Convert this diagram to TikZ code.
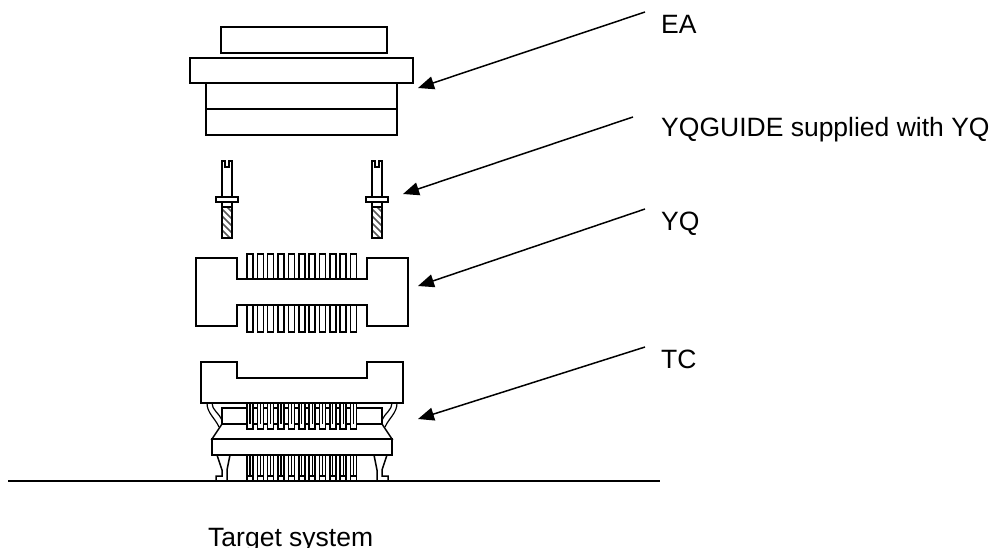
\documentclass[tikz,border=0pt]{standalone}
\usepackage{fontspec}
\setmainfont{Liberation Sans}
\usetikzlibrary{arrows.meta}
\tikzset{
  ln/.style={draw=black,line width=1.5pt,line join=miter},
  thin ln/.style={draw=black,line width=1.2pt},
  callout/.style={draw=black,line width=1.5pt,-{Triangle[length=16pt,width=13pt]}},
  lbl/.style={anchor=base west,inner sep=0pt,font=\fontsize{26.5pt}{28pt}\selectfont},
}
\begin{document}
\begin{tikzpicture}[x=1pt,y=-1pt]
\useasboundingbox (0,0) rectangle (993,550);
% EA
\draw[ln] (221,27) rectangle (387,53);
\draw[ln] (190,58) rectangle (413,83);
\draw[ln] (206,83) rectangle (397,109);
\draw[ln] (206,109) rectangle (397,135);
% guides
\foreach \c in {227,377}{
  \begin{scope}
    \clip (\c-5,207) rectangle (\c+5,238);
    \foreach \k in {0,...,7}
      \draw[black!65,line width=1.5pt] (\c-7,200+\k*7) -- (\c+7,214+\k*7);
  \end{scope}
  \draw[ln] (\c-5,197) -- (\c-5,161) -- (\c-2,161) -- (\c-2,167) -- (\c+2,167) -- (\c+2,161) -- (\c+5,161) -- (\c+5,197);
  \draw[ln] (\c-11,197) rectangle (\c+11,202);
  \draw[ln] (\c-5,202) rectangle (\c+5,238);
  \draw[ln] (\c-5,207) -- (\c+5,207);
}
% YQ
\foreach \k in {0,...,10}{
  \pgfmathsetmacro{\xa}{247+\k*10.35}
  \draw[ln] (\xa,279) -- (\xa,254) -- (\xa+6,254) -- (\xa+6,279);
  \draw[ln] (\xa,305) -- (\xa,332) -- (\xa+6,332) -- (\xa+6,305);
}
\draw[ln] (196,258) -- (237,258) -- (237,279) -- (367,279) -- (367,258) -- (408,258) -- (408,326) -- (367,326) -- (367,305) -- (237,305) -- (237,326) -- (196,326) -- cycle;
% TC
\draw[ln] (222,424) -- (222,408) -- (382,408) -- (382,424) -- cycle;
\foreach \k in {0,...,10}{
  \pgfmathsetmacro{\xa}{247+\k*10.35}
  \draw[ln,fill=white] (\xa,403) -- (\xa,429) -- (\xa+6,429) -- (\xa+6,403);
  \draw[thin ln] (\xa+3,403) -- (\xa+3,424);
  \draw[ln] (\xa,455) -- (\xa,481);
  \draw[ln] (\xa+6,455) -- (\xa+6,481);
  \draw[thin ln] (\xa+3,455) -- (\xa+3,476);
  \draw[ln] (\xa,476) rectangle (\xa+6,481);
}
\draw[ln] (201,362) -- (237,362) -- (237,378) -- (367,378) -- (367,362) -- (403,362) -- (403,403) -- (201,403) -- cycle;
\draw[ln] (222,424) -- (212,439) -- (392,439) -- (382,424);
\draw[ln] (212,439) rectangle (392,455);
% hooks
\draw[thin ln] (207,403) .. controls (207,413) and (215,418) .. (219,427);
\draw[thin ln] (212,403) .. controls (212,410) and (219,413) .. (222,420);
\draw[thin ln] (397,403) .. controls (397,413) and (389,418) .. (385,427);
\draw[thin ln] (392,403) .. controls (392,410) and (385,413) .. (382,420);
% feet
\draw[ln] (217,455) -- (222,470) -- (222,476) -- (216,476) -- (216,481) -- (227,481) -- (227,470) -- (230,455);
\draw[ln] (387,455) -- (382,470) -- (382,476) -- (388,476) -- (388,481) -- (377,481) -- (377,470) -- (374,455);
% base line
\coordinate (baseL) at (8,481);
\coordinate (baseR) at (660,481);
\draw[line width=1.5pt] (baseL) -- (baseR);
% labels
\node[lbl] (ea) at (661,33) {EA};
\node[lbl] (guide) at (661,136) {YQGUIDE supplied with YQ};
\node[lbl] (yq) at (661,230) {YQ};
\node[lbl] (tc) at (661,368) {TC};
\begin{scope}
  \clip (0,0) rectangle (993,547.5);
  \node[lbl] (target) at (208,546) {Target system};
\end{scope}
% arrows
\coordinate (a1s) at (645,12);  \coordinate (a1e) at (418,88);
\coordinate (a2s) at (633,117); \coordinate (a2e) at (403,194);
\coordinate (a3s) at (645,209); \coordinate (a3e) at (418,286);
\coordinate (a4s) at (645,347); \coordinate (a4e) at (418,419);
\draw[callout] (a1s) -- (a1e);
\draw[callout] (a2s) -- (a2e);
\draw[callout] (a3s) -- (a3e);
\draw[callout] (a4s) -- (a4e);
\end{tikzpicture}
\end{document}
